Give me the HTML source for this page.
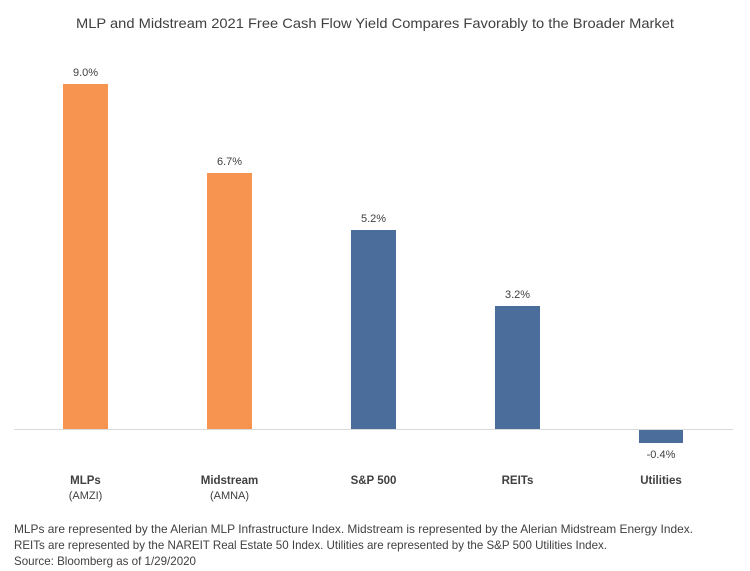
<!DOCTYPE html>
<html><head><meta charset="utf-8"><style>
body{margin:0;background:#fff;}
svg{display:block;font-family:"Liberation Sans",sans-serif;}
</style></head><body>
<svg width="750" height="571" viewBox="0 0 750 571">
<text x="375" y="28" text-anchor="middle" font-size="14" fill="#404040" textLength="598" lengthAdjust="spacingAndGlyphs">MLP and Midstream 2021 Free Cash Flow Yield Compares Favorably to the Broader Market</text>
<rect x="63" y="84" width="45" height="345" fill="#f79550"/>
<rect x="207" y="173" width="45" height="256" fill="#f79550"/>
<rect x="351" y="230" width="45" height="199" fill="#4a6d9b"/>
<rect x="495" y="306" width="45" height="123" fill="#4a6d9b"/>
<rect x="639" y="430" width="44" height="13" fill="#4a6d9b"/>
<line x1="14" y1="429.5" x2="733" y2="429.5" stroke="#d9d9d9" stroke-width="1"/>
<g font-size="11" fill="#404040" text-anchor="middle">
<text x="85.5" y="76">9.0%</text>
<text x="229.5" y="165">6.7%</text>
<text x="373.5" y="222">5.2%</text>
<text x="517.5" y="298">3.2%</text>
<text x="661" y="458">-0.4%</text>
</g>
<g font-size="11.5" fill="#404040" text-anchor="middle" font-weight="bold">
<text x="85.5" y="484">MLPs</text>
<text x="229.5" y="484">Midstream</text>
<text x="373.5" y="484">S&amp;P 500</text>
<text x="517.5" y="484">REITs</text>
<text x="661" y="484">Utilities</text>
</g>
<g font-size="11" fill="#404040" text-anchor="middle">
<text x="85.5" y="499">(AMZI)</text>
<text x="229.5" y="499">(AMNA)</text>
</g>
<g font-size="12" fill="#404040">
<text x="14" y="533" textLength="679" lengthAdjust="spacingAndGlyphs">MLPs are represented by the Alerian MLP Infrastructure Index. Midstream is represented by the Alerian Midstream Energy Index.</text>
<text x="14" y="549" textLength="593" lengthAdjust="spacingAndGlyphs">REITs are represented by the NAREIT Real Estate 50 Index. Utilities are represented by the S&amp;P 500 Utilities Index.</text>
<text x="14" y="565" textLength="182" lengthAdjust="spacingAndGlyphs">Source: Bloomberg as of 1/29/2020</text>
</g>
</svg>
</body></html>
